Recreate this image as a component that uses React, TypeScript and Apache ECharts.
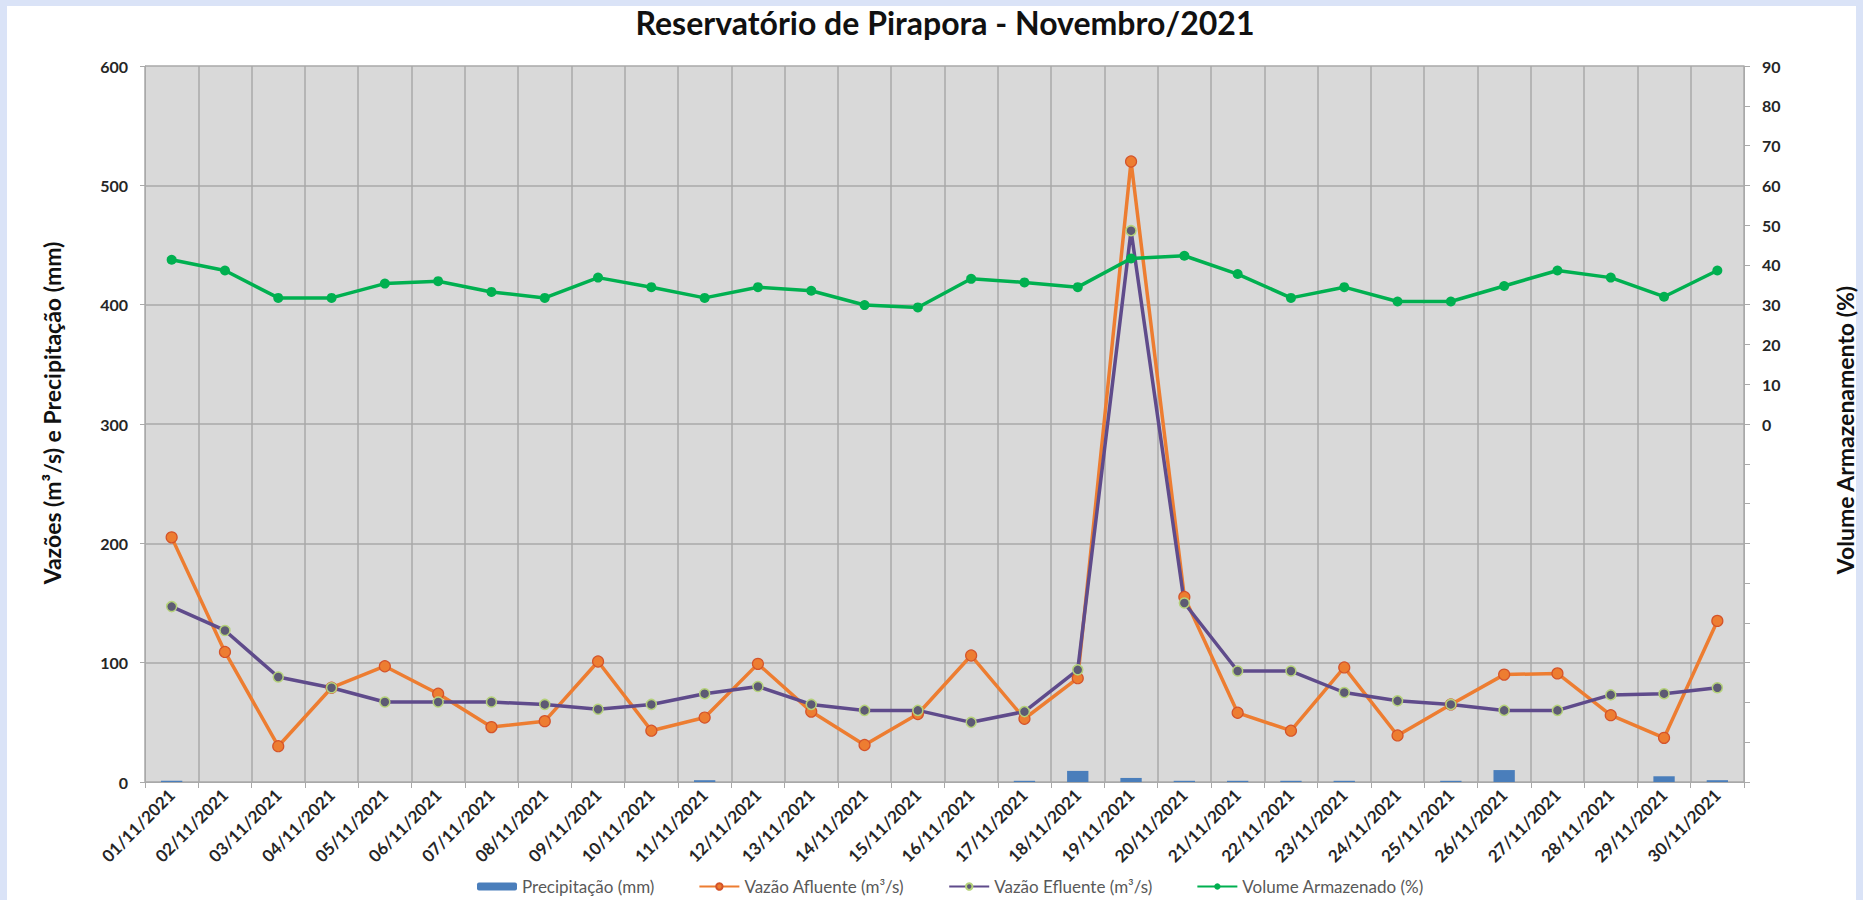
import React, { useEffect, useRef } from "react";
import * as echarts from "echarts";

const dates = [
  "01/11/2021", "02/11/2021", "03/11/2021", "04/11/2021", "05/11/2021",
  "06/11/2021", "07/11/2021", "08/11/2021", "09/11/2021", "10/11/2021",
  "11/11/2021", "12/11/2021", "13/11/2021", "14/11/2021", "15/11/2021",
  "16/11/2021", "17/11/2021", "18/11/2021", "19/11/2021", "20/11/2021",
  "21/11/2021", "22/11/2021", "23/11/2021", "24/11/2021", "25/11/2021",
  "26/11/2021", "27/11/2021", "28/11/2021", "29/11/2021", "30/11/2021",
];

const precipitacao = [
  1, 0, 0, 0, 0, 0, 0, 0, 0, 0,
  1.5, 0, 0, 0, 0, 0, 1, 9.3, 3.4, 1,
  1, 1, 1, 0, 1, 10, 0, 0, 4.8, 1.5,
];

const vazaoAfluente = [
  205, 109, 30, 79, 97, 74, 46, 51, 101, 43,
  54, 99, 59, 31, 57, 106, 53, 87, 520, 155,
  58, 43, 96, 39, 65, 90, 91, 56, 37, 135,
];

const vazaoEfluente = [
  147, 127, 88, 79, 67, 67, 67, 65, 61, 65,
  74, 80, 65, 60, 60, 50, 59, 94, 462, 150,
  93, 93, 75, 68, 65, 60, 60, 73, 74, 79,
];

const volumeArmazenado = [
  41.3, 38.6, 31.7, 31.7, 35.3, 35.9, 33.2, 31.7, 36.8, 34.4,
  31.7, 34.4, 33.5, 29.9, 29.3, 36.5, 35.6, 34.4, 41.6, 42.3,
  37.7, 31.7, 34.4, 30.8, 30.8, 34.7, 38.6, 36.8, 32.0, 38.6,
];

const FONT = "Lato";
const GRID_COLOR = "#a9a9a9";
const LABEL_COLOR = "#262626";

export default function App() {
  const ref = useRef<HTMLDivElement>(null);

  useEffect(() => {
    document.body.style.margin = "0";
    const chart = echarts.init(ref.current as HTMLDivElement, null, { renderer: "svg" });
    chart.setOption({
      animation: false,
      backgroundColor: "#dae3f7",
      textStyle: { fontFamily: FONT },
      title: {
        text: "Reservatório de Pirapora - Novembro/2021",
        left: 940,
        textAlign: "center",
        top: 1,
        textStyle: { fontFamily: FONT, fontWeight: "bold", fontSize: 32, color: "#111" },
      },
      graphic: [
        {
          type: "rect",
          z: -10,
          silent: true,
          shape: { x: 7, y: 6, width: 1849, height: 894 },
          style: { fill: "#ffffff" },
        },
        {
          type: "text",
          x: 52,
          y: 413,
          rotation: Math.PI / 2,
          style: {
            text: "Vazões (m³/s) e Precipitação (mm)",
            fill: "#111",
            font: `bold 23px ${FONT}`,
            align: "center",
            verticalAlign: "middle",
            textAlign: "center",
            textVerticalAlign: "middle",
          },
        },
        {
          type: "text",
          x: 1845,
          y: 430,
          rotation: Math.PI / 2,
          style: {
            text: "Volume Armazenamento (%)",
            fill: "#111",
            font: `bold 23px ${FONT}`,
            align: "center",
            verticalAlign: "middle",
            textAlign: "center",
            textVerticalAlign: "middle",
          },
        },
      ],
      legend: {
        top: 873,
        left: 472,
        itemGap: 44,
        itemWidth: 40,
        itemHeight: 8,
        textStyle: { fontFamily: FONT, fontSize: 17, color: "#595959" },
        data: [
          "Precipitação (mm)",
          "Vazão Afluente (m³/s)",
          "Vazão Efluente (m³/s)",
          "Volume Armazenado (%)",
        ],
      },
      grid: {
        left: 145,
        top: 66,
        width: 1599,
        height: 716,
        show: true,
        backgroundColor: "#d9d9d9",
        borderWidth: 0,
      },
      xAxis: {
        type: "category",
        data: dates,
        boundaryGap: true,
        axisLine: { show: true, lineStyle: { color: GRID_COLOR, width: 1 } },
        axisTick: { show: true, length: 6, interval: 0, lineStyle: { color: GRID_COLOR } },
        splitLine: { show: true, interval: 0, lineStyle: { color: GRID_COLOR, width: 1.5 } },
        axisLabel: {
          interval: 0,
          rotate: 45,
          margin: 10,
          fontFamily: FONT,
          fontWeight: "bold",
          fontSize: 17,
          color: LABEL_COLOR,
        },
      },
      yAxis: [
        {
          type: "value",
          min: 0,
          max: 600,
          interval: 100,
          axisLine: { show: true, lineStyle: { color: GRID_COLOR } },
          axisTick: { show: true, length: 5, lineStyle: { color: GRID_COLOR } },
          splitLine: { show: true, lineStyle: { color: GRID_COLOR, width: 1.5 } },
          axisLabel: {
            margin: 17,
            fontFamily: FONT,
            fontWeight: "bold",
            fontSize: 16,
            color: LABEL_COLOR,
          },
        },
        {
          type: "value",
          position: "right",
          min: -90,
          max: 90,
          interval: 10,
          axisLine: { show: true, lineStyle: { color: GRID_COLOR } },
          axisTick: { show: true, length: 6, lineStyle: { color: GRID_COLOR } },
          splitLine: { show: false },
          axisLabel: {
            margin: 18,
            fontFamily: FONT,
            fontWeight: "bold",
            fontSize: 16,
            color: LABEL_COLOR,
            formatter: (v: number) => (v >= 0 ? String(v) : ""),
          },
        },
      ],
      series: [
        {
          name: "Precipitação (mm)",
          type: "bar",
          yAxisIndex: 0,
          data: precipitacao,
          barWidth: "40%",
          itemStyle: { color: "#4a7ebb" },
        },
        {
          name: "Vazão Afluente (m³/s)",
          type: "line",
          yAxisIndex: 0,
          data: vazaoAfluente,
          symbol: "circle",
          symbolSize: 11,
          lineStyle: { color: "#ed7d31", width: 3.5 },
          itemStyle: { color: "#ed7d31", borderColor: "#d4532a", borderWidth: 1.2 },
        },
        {
          name: "Vazão Efluente (m³/s)",
          type: "line",
          yAxisIndex: 0,
          data: vazaoEfluente,
          symbol: "circle",
          symbolSize: 10,
          lineStyle: { color: "#5f4b8b", width: 3.5 },
          itemStyle: { color: "#5d5a74", borderColor: "#b5d27a", borderWidth: 1.5 },
        },
        {
          name: "Volume Armazenado (%)",
          type: "line",
          yAxisIndex: 1,
          data: volumeArmazenado,
          symbol: "circle",
          symbolSize: 10,
          lineStyle: { color: "#00b050", width: 3.5 },
          itemStyle: { color: "#00b050" },
        },
      ],
    });
    return () => chart.dispose();
  }, []);

  return <div ref={ref} style={{ width: 1863, height: 900 }} />;
}
